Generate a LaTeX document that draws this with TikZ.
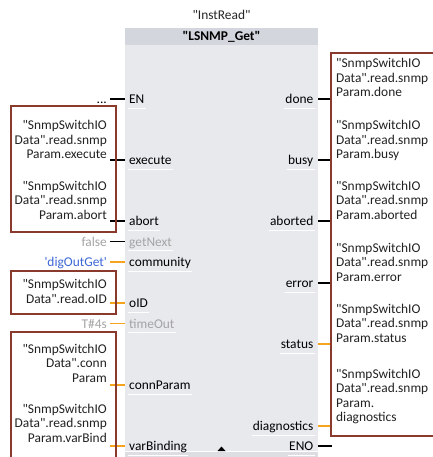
\documentclass[tikz,border=0pt]{standalone}
\usepackage{fontspec}
\setmainfont{Carlito}[Ligatures=TeXOff]
\definecolor{blockbody}{HTML}{E7E9ED}
\definecolor{blocktitle}{HTML}{D3D6DC}
\definecolor{blockfoot}{HTML}{DCDEE2}
\definecolor{wirebox}{HTML}{8A3A2D}
\definecolor{wireorange}{HTML}{F6A31E}
\definecolor{constblue}{HTML}{3C67D6}
\definecolor{dimgray}{HTML}{A4A4A4}
\definecolor{tagtext}{HTML}{222222}
\begin{document}
\begin{tikzpicture}[x=1pt,y=-1pt,
  txt/.style={font=\fontsize{13.4}{14.5}\selectfont, inner sep=0pt, text=tagtext},
  pinname/.style={txt, text=black},
  boxtxtL/.style={txt, align=right, anchor=base east},
  boxtxtR/.style={txt, align=left, anchor=base west},
  tagbox/.style={draw=wirebox, line width=2.2pt},
  bwire/.style={line width=1.7pt, black},
  owire/.style={line width=1.7pt, wireorange},
  uline/.style={white, line width=0.9pt}]
\useasboundingbox (0,0) rectangle (432,457);
\fill[white] (0,0) rectangle (432,457);

% function block body, title bar and footer
\fill[blockbody] (125,28) rectangle (318,457);
\fill[blocktitle] (125,28) rectangle (318,45);
\fill[blockfoot] (125,452) rectangle (318,457);
\draw[white, line width=0.6pt] (125,451.5) -- (318,451.5);
\node[txt, text=black, font=\fontsize{13.4}{14.5}\selectfont\bfseries, anchor=base] (fbname) at (221.5,41) {"LSNMP\_Get"};
\node[txt, text=black!85, anchor=base] (dbname) at (221.5,20) {"InstRead"};
\fill[black] (217.5,451) -- (221.5,446.5) -- (225.5,451) -- cycle;

% input pins
\foreach \pname/\py/\pcol in {EN/99/black, execute/160/black, abort/221/black,
    getNext/241.5/dimgray, community/262/black, oID/303/black,
    timeOut/323.5/dimgray, connParam/385/black, varBinding/446/black} {
  \node[pinname, text=\pcol, anchor=base west] (in-\pname) at (129,\py+4.5) {\pname};
  \draw[uline] ([xshift=-1pt,yshift=-4.5pt]in-\pname.base west) -- ([xshift=1pt,yshift=-4.5pt]in-\pname.base east);
  \coordinate (pinL-\pname) at (125,\py);
  \coordinate (srcL-\pname) at (110,\py);
}
% output pins
\foreach \pname/\py in {done/99, busy/160, aborted/221, error/283,
    status/344, diagnostics/426, ENO/446} {
  \node[pinname, anchor=base east] (out-\pname) at (313.5,\py+4.5) {\pname};
  \draw[uline] ([xshift=-1pt,yshift=-4.5pt]out-\pname.base west) -- ([xshift=1pt,yshift=-4.5pt]out-\pname.base east);
  \coordinate (pinR-\pname) at (318,\py);
  \coordinate (dstR-\pname) at (331,\py);
}

% wires
\foreach \pname in {EN, execute, abort, getNext}
  \draw[bwire] (srcL-\pname) -- (pinL-\pname);
\foreach \pname in {community, oID, timeOut, connParam, varBinding}
  \draw[owire] (srcL-\pname) -- (pinL-\pname);
\foreach \pname in {done, busy, aborted, error}
  \draw[bwire] (pinR-\pname) -- (dstR-\pname);
\foreach \pname in {status, diagnostics}
  \draw[owire] (pinR-\pname) -- (dstR-\pname);
\coordinate (dstR-ENOend) at (332,446);
\draw[bwire] (pinR-ENO) -- (dstR-ENOend);

% constant actual parameters
\node[txt, text=black, anchor=base east] (c-en) at (107,103.5) {...};
\node[txt, text=dimgray, anchor=base east] (c-false) at (107,246) {false};
\node[txt, text=constblue, anchor=base east] (c-community) at (107,266.5) {'digOutGet'};
\node[txt, text=dimgray, anchor=base east] (c-timeout) at (107,328) {T\#4s};

% tag boxes on the left (anchored at the baseline of their last line)
\draw[tagbox] (11,106) rectangle (116,232);
\draw[tagbox] (11,271) rectangle (116,314);
\draw[tagbox] (11,332) rectangle (116,470);
\node[boxtxtL] (t-execute) at (107,159) {"SnmpSwitchIO\\Data".read.snmp\\Param.execute};
\node[boxtxtL] (t-abort) at (107,219) {"SnmpSwitchIO\\Data".read.snmp\\Param.abort};
\node[boxtxtL] (t-oid) at (107,303) {"SnmpSwitchIO\\Data".read.oID};
\node[boxtxtL] (t-conn) at (107,382) {"SnmpSwitchIO\\Data".conn\\Param};
\node[boxtxtL] (t-varbind) at (107,442) {"SnmpSwitchIO\\Data".read.snmp\\Param.varBind};

% tag box on the right
\draw[tagbox] (331,53) rectangle (445,436);
\node[boxtxtR] (t-done) at (336,97) {"SnmpSwitchIO\\Data".read.snmp\\Param.done};
\node[boxtxtR] (t-busy) at (336,159) {"SnmpSwitchIO\\Data".read.snmp\\Param.busy};
\node[boxtxtR] (t-aborted) at (336,219) {"SnmpSwitchIO\\Data".read.snmp\\Param.aborted};
\node[boxtxtR] (t-error) at (336,281) {"SnmpSwitchIO\\Data".read.snmp\\Param.error};
\node[boxtxtR] (t-status) at (336,342) {"SnmpSwitchIO\\Data".read.snmp\\Param.status};
\node[boxtxtR] (t-diag) at (336,421.5) {"SnmpSwitchIO\\Data".read.snmp\\Param.\\diagnostics};
\end{tikzpicture}
\end{document}
